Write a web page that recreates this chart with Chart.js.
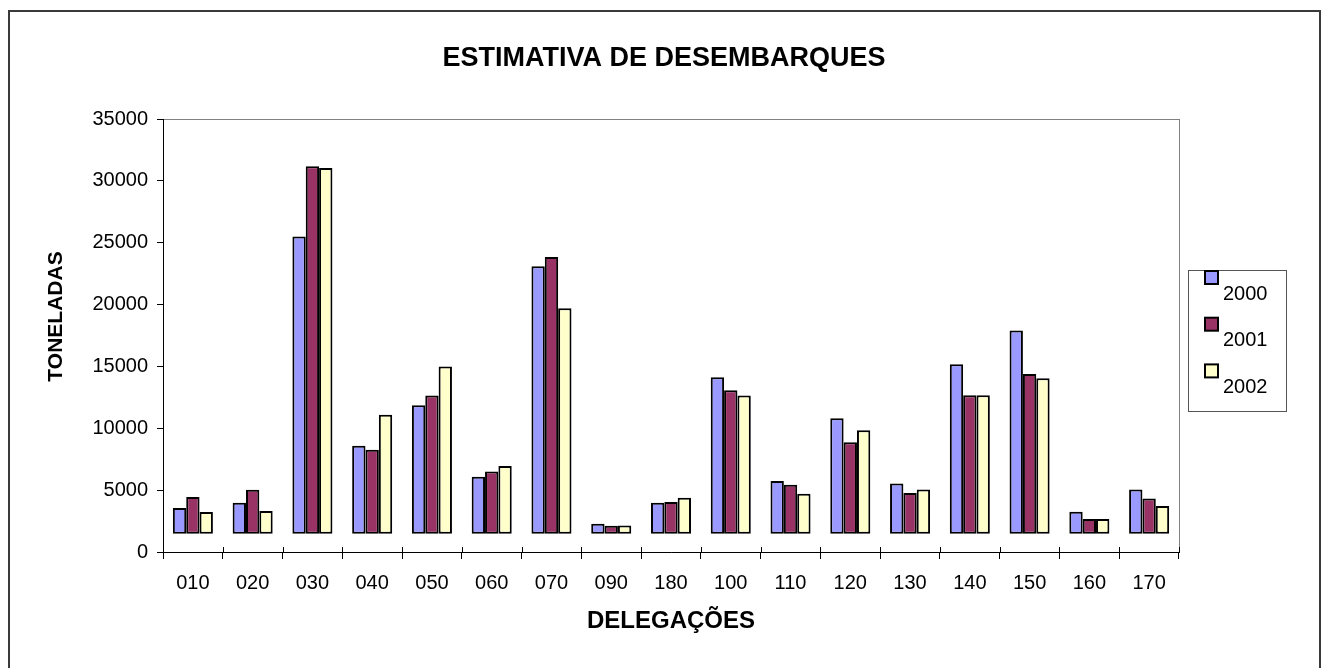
<!DOCTYPE html>
<html>
<head>
<meta charset="utf-8">
<script src="https://cdn.jsdelivr.net/npm/chart.js@4.4.0/dist/chart.umd.min.js"></script>
<style>
  html, body { margin: 0; padding: 0; background: #fff; }
  #wrap { position: relative; width: 1327px; height: 668px; }
</style>
</head>
<body>
<div id="wrap"><canvas id="grafico"></canvas></div>
<script>
// dados
const delegacoes = ['010','020','030','040','050','060','070','090','180','100','110','120','130','140','150','160','170'];
const anos = ['2000','2001','2002'];
const valores2000 = [3550,3980,25500,8590,11870,6080,23100,2290,3980,14130,5730,10820,5540,15180,17900,3250,5050];
const valores2001 = [4440,5030,31180,8260,12650,6510,23850,2120,4040,13080,5440,8880,4770,12680,14380,2670,4330];
const valores2002 = [3230,3310,31040,11090,14990,6950,19710,2150,4390,12650,4710,9850,5060,12680,14050,2670,3720];
const cores = ['#9999FF', '#993366', '#FFFFCC'];
const ticksY = [0,5000,10000,15000,20000,25000,30000,35000];
const baseBarras = 1480; // as barras do original nao comecam no zero

const fonte = "'Liberation Sans', Arial, sans-serif";

function barras(vals) {
    return vals.map(v => [baseBarras, v]);
}

const dados = {
    labels: delegacoes,
    datasets: [
        { label: anos[0], data: barras(valores2000), backgroundColor: cores[0] },
        { label: anos[1], data: barras(valores2001), backgroundColor: cores[1] },
        { label: anos[2], data: barras(valores2002), backgroundColor: cores[2] }
    ]
};

// moldura, titulo, borda da area do grafico, titulo do eixo y e legenda
const extras = {
    id: 'extras',
    beforeDraw(chart) {
        const ctx = chart.ctx;
        const a = chart.chartArea;
        ctx.save();
        ctx.strokeStyle = '#3a3a3a';
        ctx.lineWidth = 2;
        ctx.strokeRect(9, 11, 1311, 720);
        ctx.strokeStyle = '#808080';
        ctx.lineWidth = 1;
        ctx.strokeRect(a.left + 0.5, a.top + 0.5, a.right - a.left, a.bottom - a.top);
        ctx.font = 'bold 27px ' + fonte;
        ctx.fillStyle = '#000';
        ctx.textAlign = 'center';
        ctx.textBaseline = 'middle';
        ctx.fillText('ESTIMATIVA DE DESEMBARQUES', 664, 59);
        ctx.restore();
    },
    afterDraw(chart) {
        const ctx = chart.ctx;
        const a = chart.chartArea;
        const x = chart.scales.x;
        ctx.save();
        // marcas do eixo x atravessam a linha
        ctx.strokeStyle = '#000';
        ctx.lineWidth = 1;
        const passo = (a.right - a.left) / delegacoes.length;
        for (let i = 0; i <= delegacoes.length; i++) {
            const px = Math.round(x.getPixelForValue(i) - passo / 2) + 0.5;
            ctx.beginPath();
            ctx.moveTo(px, a.bottom - 5);
            ctx.lineTo(px, a.bottom);
            ctx.stroke();
        }
        // titulo eixo y
        ctx.translate(56, (a.top + a.bottom) / 2 - 19);
        ctx.rotate(-Math.PI / 2);
        ctx.font = 'bold 21px ' + fonte;
        ctx.fillStyle = '#000';
        ctx.textAlign = 'center';
        ctx.textBaseline = 'middle';
        ctx.fillText('TONELADAS', 0, 0);
        ctx.restore();

        // legenda
        const lx = a.right + 9, ly = 270;
        ctx.save();
        ctx.strokeStyle = '#555';
        ctx.lineWidth = 1;
        ctx.strokeRect(lx + 0.5, ly + 0.5, 98, 141);
        ctx.font = '20px ' + fonte;
        ctx.textBaseline = 'middle';
        chart.data.datasets.forEach((ds, i) => {
            const y = ly + 1 + i * 46.7;
            ctx.fillStyle = ds.backgroundColor;
            ctx.fillRect(lx + 17, y, 13, 13);
            ctx.strokeStyle = '#000';
            ctx.lineWidth = 2;
            ctx.strokeRect(lx + 17, y, 13, 13);
            ctx.fillStyle = '#000';
            ctx.fillText(ds.label, lx + 35, y + 23);
        });
        ctx.restore();
    }
};

new Chart(document.getElementById('grafico'), {
    type: 'bar',
    data: dados,
    plugins: [extras],
    options: {
        responsive: true,
        maintainAspectRatio: false,
        animation: false,
        layout: { padding: { left: 0, right: 148, top: 119, bottom: 0 } },
        datasets: {
            bar: {
                categoryPercentage: 0.67,
                barPercentage: 1.0,
                borderColor: '#000',
                borderWidth: 2,
                borderSkipped: false
            }
        },
        plugins: {
            legend: { display: false },
            tooltip: { enabled: false },
            title: { display: false }
        },
        scales: {
            x: {
                grid: {
                    offset: true,
                    drawOnChartArea: false,
                    drawTicks: true,
                    tickLength: 7,
                    color: '#000',
                    tickColor: '#000'
                },
                border: { display: true, color: '#000', width: 1 },
                ticks: {
                    color: '#000',
                    font: { family: fonte, size: 20 },
                    padding: 12,
                    maxRotation: 0,
                    autoSkip: false
                },
                title: {
                    display: true,
                    text: 'DELEGAÇÕES',
                    color: '#000',
                    font: { family: fonte, size: 24, weight: 'bold', lineHeight: 1.2 },
                    padding: { top: 0, bottom: 32 }
                },
                afterFit(scale) { scale.height = 116; }
            },
            y: {
                min: 0,
                max: 35000,
                afterBuildTicks(scale) { scale.ticks = ticksY.map(v => ({ value: v })); },
                grid: {
                    drawOnChartArea: false,
                    drawTicks: true,
                    tickLength: 6,
                    color: '#000',
                    tickColor: '#000'
                },
                border: { display: true, color: '#000', width: 1 },
                ticks: {
                    color: '#000',
                    font: { family: fonte, size: 20 },
                    padding: 9,
                    callback: v => String(v)
                },
                afterFit(scale) { scale.width = 163; }
            }
        }
    }
});
</script>
</body>
</html>
